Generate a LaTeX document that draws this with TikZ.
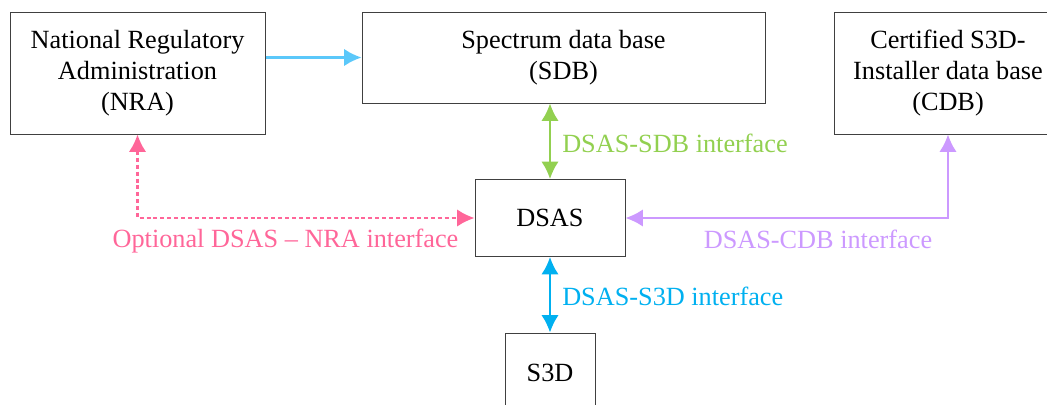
\documentclass[tikz,border=0pt]{standalone}
\usepackage{fontspec}
\setmainfont{Liberation Serif}
\usepackage{tikz}
\usetikzlibrary{arrows.meta}
\usetikzlibrary{positioning}
\definecolor{mlblue}{RGB}{91, 200, 250}
\definecolor{mgreen}{RGB}{146, 208, 80}
\definecolor{mcyan}{RGB}{0, 176, 240}
\definecolor{mpink}{RGB}{255, 102, 153}
\definecolor{mviolet}{RGB}{204, 153, 255}
\tikzset{
  box/.style={draw=black!75, line width=0.75pt, inner sep=0pt, align=center,
    font=\fontsize{19.7}{23.25}\selectfont},
  lbl/.style={inner sep=0pt, font=\fontsize{19.7}{22}\selectfont},
  link/.style={line width=1.6pt, arrows={-Latex[length=13pt, width=13pt]}},
  dlink/.style={line width=1.6pt, arrows={Latex[length=13pt, width=13pt]-Latex[length=13pt, width=13pt]}}
}

\begin{document}
\begin{tikzpicture}[x=0.75pt, y=-0.75pt]
      \clip (0, 0) rectangle (1047, 404);
      \node [box, minimum width=191.25pt, minimum height=91.5pt] (nra) at (137.5, 73) {National Regulatory\\Administration\\(NRA)};
      \node [box, minimum width=302.25pt, minimum height=68.25pt] (sdb) at (563.5, 57.5) {Spectrum data base\\(SDB)};
      \node [box, minimum width=171pt, minimum height=91.5pt] (cdb) at (948, 73) {Certified S3D-\\Installer data base\\(CDB)};
      \node [box, minimum width=112.5pt, minimum height=57.75pt] (dsas) at (550, 218) {DSAS};
      \node [box, minimum width=67.5pt, minimum height=60pt] (s3d) at (550, 373) {S3D};
      \draw [link, mlblue] (nra.east |- sdb.west) -- (sdb.west);
      \draw [dlink, mgreen] (dsas.north |- sdb.south) -- (dsas.north);
      \draw [dlink, mcyan] (dsas.south) -- (s3d.north);
      \draw [dlink, mpink, dash pattern=on 3pt off 2.2pt] (nra.south) -- (nra.south |- dsas.west) -- (dsas.west);
      \draw [dlink, mviolet] (cdb.south) -- (cdb.south |- dsas.east) -- (dsas.east);
      \node [lbl, mgreen, anchor=west] (lblsdb) at (562, 143) {DSAS-SDB interface};
      \node [lbl, mcyan, anchor=west] (lbls3d) at (562, 296) {DSAS-S3D interface};
      \node [lbl, mpink] (lblnra) at (285.5, 241) {Optional DSAS -- NRA interface};
      \node [lbl, mviolet] (lblcdb) at (818, 239) {DSAS-CDB interface};
    \end{tikzpicture}
\end{document}
